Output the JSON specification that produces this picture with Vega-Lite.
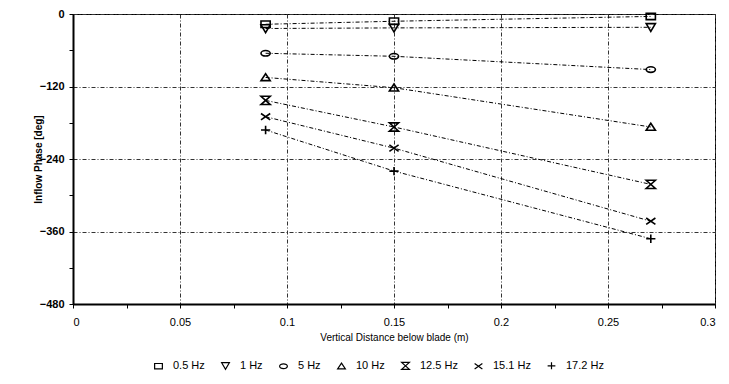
{
  "$schema": "https://vega.github.io/schema/vega-lite/v6.json",
  "autosize": "none",
  "width": 642,
  "height": 290,
  "padding": {"left": 73, "top": 14, "right": 14, "bottom": 80},
  "background": "white",
  "config": {
    "font": "Liberation Sans",
    "view": {"stroke": "black", "strokeWidth": 1}
  },
  "data": {
    "values": [
      {"x": 0.09, "phase": -17, "freq": "0.5 Hz"},
      {"x": 0.15, "phase": -12, "freq": "0.5 Hz"},
      {"x": 0.27, "phase": -4, "freq": "0.5 Hz"},
      {"x": 0.09, "phase": -24, "freq": "1 Hz"},
      {"x": 0.15, "phase": -23, "freq": "1 Hz"},
      {"x": 0.27, "phase": -22, "freq": "1 Hz"},
      {"x": 0.09, "phase": -65, "freq": "5 Hz"},
      {"x": 0.15, "phase": -70, "freq": "5 Hz"},
      {"x": 0.27, "phase": -92, "freq": "5 Hz"},
      {"x": 0.09, "phase": -105, "freq": "10 Hz"},
      {"x": 0.15, "phase": -122, "freq": "10 Hz"},
      {"x": 0.27, "phase": -187, "freq": "10 Hz"},
      {"x": 0.09, "phase": -143, "freq": "12.5 Hz"},
      {"x": 0.15, "phase": -187, "freq": "12.5 Hz"},
      {"x": 0.27, "phase": -282, "freq": "12.5 Hz"},
      {"x": 0.09, "phase": -170, "freq": "15.1 Hz"},
      {"x": 0.15, "phase": -222, "freq": "15.1 Hz"},
      {"x": 0.27, "phase": -343, "freq": "15.1 Hz"},
      {"x": 0.09, "phase": -192, "freq": "17.2 Hz"},
      {"x": 0.15, "phase": -260, "freq": "17.2 Hz"},
      {"x": 0.27, "phase": -372, "freq": "17.2 Hz"}
    ]
  },
  "encoding": {
    "x": {
      "field": "x", "type": "quantitative",
      "scale": {"domain": [0, 0.3], "nice": false},
      "axis": {
        "title": "Vertical Distance below blade (m)",
        "titleFont": "Liberation Sans", "titleFontSize": 10, "titleFontWeight": "normal", "titleColor": "black",
        "titlePadding": 5,
        "values": [0, 0.025, 0.05, 0.075, 0.1, 0.125, 0.15, 0.175, 0.2, 0.225, 0.25, 0.275, 0.3],
        "labelExpr": "round(datum.value*1000) % 50 === 0 ? format(datum.value, '~g') : ''",
        "labelFontSize": 11, "labelColor": "black", "labelPadding": 8,
        "domainColor": "black", "domainWidth": 2,
        "tickColor": "black", "tickSize": 4,
        "grid": true,
        "gridColor": "#333",
        "gridDash": [4, 2, 1, 2],
        "gridOpacity": {"condition": {"test": "round(datum.value*1000) % 50 !== 0", "value": 0}, "value": 1}
      }
    },
    "y": {
      "field": "phase", "type": "quantitative",
      "scale": {"domain": [-480, 0], "nice": false},
      "axis": {
        "title": "Inflow Phase [deg]",
        "titleFont": "Liberation Sans", "titleFontSize": 10, "titleFontWeight": "bold", "titleColor": "black",
        "titlePadding": -4,
        "values": [-480, -420, -360, -300, -240, -180, -120, -60, 0],
        "labelExpr": "datum.value % 120 === 0 ? datum.label : ''",
        "labelFontSize": 11, "labelFontWeight": "bold", "labelColor": "black", "labelPadding": 5,
        "domainColor": "black", "domainWidth": 2,
        "tickColor": "black", "tickSize": 4,
        "grid": true,
        "gridColor": "#333",
        "gridDash": [4, 2, 1, 2],
        "gridOpacity": {"condition": {"test": "datum.value % 120 !== 0", "value": 0}, "value": 1}
      }
    }
  },
  "layer": [
    {
      "mark": {"type": "line", "color": "black", "strokeWidth": 1, "strokeDash": [4, 2, 1, 2]},
      "encoding": {"detail": {"field": "freq"}}
    },
    {
      "mark": {"type": "point", "filled": false, "color": "black", "strokeWidth": 1.6, "size": 85, "opacity": 1},
      "encoding": {
        "shape": {
          "field": "freq", "type": "nominal",
          "scale": {
            "domain": ["0.5 Hz", "1 Hz", "5 Hz", "10 Hz", "12.5 Hz", "15.1 Hz", "17.2 Hz"],
            "range": [
              "M-1,-0.7H1V0.7H-1Z",
              "M-1,-0.8H1L0,0.9Z",
              "M-1,0A1,0.6 0 1,0 1,0A1,0.6 0 1,0 -1,0Z",
              "M-1,0.7H1L0,-0.8Z",
              "M-1,-0.9H1L-1,0.9H1Z",
              "M-1,-0.7L1,0.7M-1,0.7L1,-0.7",
              "M-1,0H1M0,-0.9V0.9"
            ]
          },
          "legend": {
            "title": null,
            "orient": "none",
            "legendX": 80,
            "legendY": 346,
            "direction": "horizontal",
            "columns": 7,
            "columnPadding": 14,
            "symbolSize": 60,
            "symbolStrokeColor": "black",
            "symbolStrokeWidth": 1.2,
            "labelFontSize": 11,
            "labelColor": "black",
            "labelOffset": 9
          }
        }
      }
    }
  ]
}
